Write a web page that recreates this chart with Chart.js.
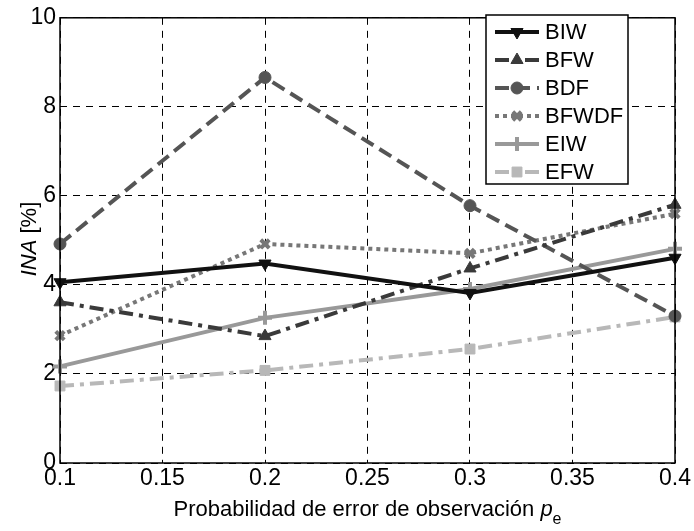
<!DOCTYPE html>
<html>
<head>
<meta charset="utf-8">
<script src="https://cdn.jsdelivr.net/npm/chart.js@4.4.1/dist/chart.umd.min.js"></script>
<style>
  html, body { margin: 0; padding: 0; background: #fff; }
  #wrap { width: 694px; height: 531px; }
</style>
</head>
<body>
<div id="wrap"><canvas id="chart" width="694" height="531"></canvas></div>
<script>
// values
const pe = [0.1, 0.2, 0.3, 0.4];
const biw = [4.06, 4.48, 3.82, 4.61];
const bfw = [3.61, 2.85, 4.37, 5.80];
const bdf = [4.92, 8.66, 5.78, 3.30];
const bfwdf = [2.86, 4.92, 4.71, 5.60];
const eiw = [2.17, 3.26, 3.91, 4.81];
const efw = [1.73, 2.08, 2.56, 3.28];
const yTicks = [0, 2, 4, 6, 8, 10];
const xTicks = [0.1, 0.15, 0.2, 0.25, 0.3, 0.35, 0.4];

const FONT = "'Liberation Sans', Arial, sans-serif";

function pts(vals) {
  return vals.map((v, i) => ({ x: pe[i], y: v }));
}

function series(label, vals, color, dash, style, rot, radius) {
  return {
    label,
    data: pts(vals),
    borderColor: color,
    backgroundColor: color,
    borderWidth: 4,
    borderDash: dash,
    pointStyle: style,
    rotation: rot,
    pointRadius: radius,
    pointBorderWidth: style === "cross" || style === "crossRot" ? 4 : 1,
    pointBorderColor: color,
    pointBackgroundColor: color,
    tension: 0,
    fill: false,
    clip: false,
  };
}

const datasets = [
  series("BIW", biw, "#111111", [], "triangle", 180, 7),
  series("BFW", bfw, "#3a3a3a", [14, 6, 4, 6], "triangle", 0, 7),
  series("BDF", bdf, "#555555", [14, 7], "circle", 0, 6),
  series("BFWDF", bfwdf, "#777777", [4, 4], "crossRot", 0, 6),
  series("EIW", eiw, "#999999", [], "cross", 0, 7),
  series("EFW", efw, "#b8b8b8", [14, 6, 4, 6], "rect", 0, 7),
];

const frame = {
  id: "frame",
  afterDatasetsDraw(chart) {
    const { ctx, chartArea: a } = chart;
    ctx.save();
    ctx.setLineDash([]);
    ctx.strokeStyle = "#000";
    ctx.lineWidth = 1.5;
    ctx.strokeRect(a.left, a.top, a.right - a.left, a.bottom - a.top);

    // legend box
    const lx = 486, ly = 15, lw = 142, lh = 169;
    ctx.fillStyle = "#fff";
    ctx.fillRect(lx, ly, lw, lh);
    ctx.lineWidth = 1.5;
    ctx.strokeRect(lx, ly, lw, lh);
    ctx.font = "22px " + FONT;
    ctx.textBaseline = "middle";
    chart.data.datasets.forEach((ds, i) => {
      const y = 32 + i * 28;
      ctx.strokeStyle = ds.borderColor;
      ctx.lineWidth = 4;
      ctx.setLineDash(ds.borderDash);
      ctx.beginPath();
      ctx.moveTo(495, y);
      ctx.lineTo(539, y);
      ctx.stroke();
      ctx.setLineDash([]);
      ctx.fillStyle = ds.borderColor;
      ctx.strokeStyle = ds.borderColor;
      ctx.lineWidth = ds.pointBorderWidth;
      Chart.helpers.drawPoint(ctx, {
        pointStyle: ds.pointStyle,
        rotation: ds.rotation,
        radius: ds.pointRadius,
        borderWidth: ds.pointBorderWidth,
      }, 517, y);
      ctx.fillStyle = "#000";
      ctx.textAlign = "left";
      ctx.fillText(ds.label, 545, y + 1);
    });

    // axis titles
    ctx.fillStyle = "#000";
    ctx.textBaseline = "alphabetic";
    const t1 = "Probabilidad de error de observación ";
    ctx.font = "italic 22px " + FONT;
    const wp = ctx.measureText("p").width;
    ctx.font = "16px " + FONT;
    const we = ctx.measureText("e").width;
    ctx.font = "22px " + FONT;
    const w1 = ctx.measureText(t1).width;
    let x0 = (a.left + a.right) / 2 - (w1 + wp + we) / 2;
    ctx.textAlign = "left";
    ctx.fillText(t1, x0, 516);
    ctx.font = "italic 22px " + FONT;
    ctx.fillText("p", x0 + w1, 516);
    ctx.font = "16px " + FONT;
    ctx.fillText("e", x0 + w1 + wp, 524);

    ctx.translate(36, 239);
    ctx.rotate(-Math.PI / 2);
    ctx.font = "italic 22px " + FONT;
    const wi = ctx.measureText("INA").width;
    ctx.font = "22px " + FONT;
    const wr = ctx.measureText(" [%]").width;
    let s = -(wi + wr) / 2;
    ctx.font = "italic 22px " + FONT;
    ctx.fillText("INA", s, 0);
    ctx.font = "22px " + FONT;
    ctx.fillText(" [%]", s + wi, 0);
    ctx.restore();
  },
};

new Chart(document.getElementById("chart"), {
  type: "line",
  data: { datasets },
  options: {
    responsive: false,
    animation: false,
    layout: { padding: { left: 0, right: 19, top: 15, bottom: 0 } },
    plugins: { legend: { display: false }, tooltip: { enabled: false } },
    scales: {
      x: {
        type: "linear",
        min: 0.1,
        max: 0.4,
        afterBuildTicks: (scale) => { scale.ticks = xTicks.map((v) => ({ value: v })); },
        afterFit: (scale) => { scale.height = 68; },
        ticks: {
          color: "#000",
          font: { family: FONT, size: 23 },
          padding: 2,
          maxRotation: 0,
          autoSkip: false,
          callback: (v) => String(Math.round(v * 100) / 100),
        },
        grid: { color: "#000", lineWidth: 1, drawTicks: false },
        border: { display: false, dash: [7, 6] },
      },
      y: {
        min: 0,
        max: 10,
        afterBuildTicks: (scale) => { scale.ticks = yTicks.map((v) => ({ value: v })); },
        afterFit: (scale) => { scale.width = 60; },
        ticks: {
          color: "#000",
          font: { family: FONT, size: 23 },
          padding: 4,
        },
        grid: { color: "#000", lineWidth: 1, drawTicks: false },
        border: { display: false, dash: [7, 6] },
      },
    },
  },
  plugins: [frame],
});
</script>
</body>
</html>
